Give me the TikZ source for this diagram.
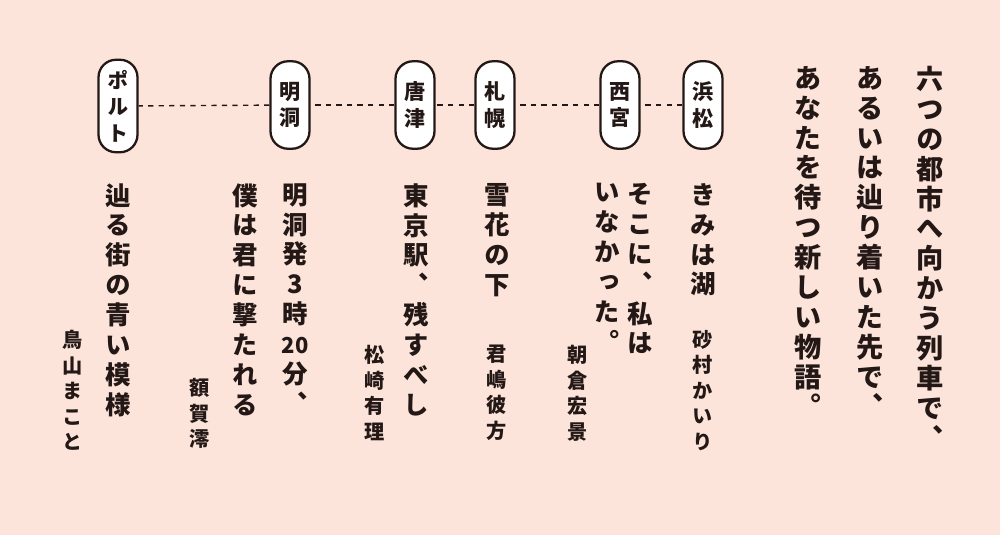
\documentclass[tikz,border=0pt]{standalone}
\usepackage{fontspec}
\newfontfamily\cjkv[RawFeature=+vert]{Noto Sans CJK JP}
\definecolor{bg}{HTML}{FCE4DB}
\definecolor{ink}{HTML}{231815}
\tikzset{
 pill/.style={draw=ink,line width=1.3pt,fill=white,rounded corners=10pt,minimum width=0.78cm,minimum height=1.75cm,inner sep=0pt,align=center,font=\cjkv\bfseries\fontsize{12pt}{15pt}\selectfont,text=ink},
 title/.style={anchor=north,inner sep=0pt,align=center,font=\cjkv\bfseries\fontsize{15.5pt}{17pt}\selectfont,text=ink},
 story/.style={anchor=north,inner sep=0pt,align=center,font=\cjkv\bfseries\fontsize{14.5pt}{17pt}\selectfont,text=ink},
 author/.style={anchor=north,inner sep=0pt,align=center,font=\cjkv\bfseries\fontsize{11.5pt}{14.5pt}\selectfont,text=ink},
 link/.style={draw=ink,dashed,line width=0.8pt}
}
\begin{document}
\begin{tikzpicture}[x=0.02cm,y=-0.02cm]
\fill[bg] (0,0) rectangle (1000,535);
\useasboundingbox (0,0) rectangle (1000,535);
% title
\node[title] (t1) at (930,66) {六\\つ\\の\\都\\市\\へ\\向\\か\\う\\列\\車\\で\\、};
\node[title] (t2) at (870,66) {あ\\る\\い\\は\\辿\\り\\着\\い\\た\\先\\で\\、};
\node[title] (t3) at (808,66) {あ\\な\\た\\を\\待\\つ\\新\\し\\い\\物\\語\\。};
% pills
\node[pill] (p1) at (703,105) {浜\\松};
\node[pill] (p2) at (620,105) {西\\宮};
\node[pill] (p3) at (495,105) {札\\幌};
\node[pill] (p4) at (415,105) {唐\\津};
\node[pill] (p5) at (290,105) {明\\洞};
\node[pill,minimum height=1.85cm] (p6) at (118,106) {ポ\\ル\\ト};
\draw[link] (p1) -- (p2);
\draw[link] (p2) -- (p3);
\draw[link] (p3) -- (p4);
\draw[link] (p4) -- (p5);
\draw[link] (p5) -- (p6);
% stories
\node[story] (s1) at (703,183) {き\\み\\は\\湖};
\node[author] (a1) at (703,330) {砂\\村\\か\\い\\り};
\node[story] (s2a) at (640,183) {そ\\こ\\に\\、\\私\\は};
\node[story] (s2b) at (607,183) {い\\な\\か\\っ\\た\\。};
\node[author] (a2) at (578,345) {朝\\倉\\宏\\景};
\node[story] (s3) at (497,183) {雪\\花\\の\\下};
\node[author] (a3) at (497,345) {君\\嶋\\彼\\方};
\node[story] (s4) at (416,183) {東\\京\\駅\\、\\残\\す\\べ\\し};
\node[author] (a4) at (375,345) {松\\崎\\有\\理};
\node[story] (s5a) at (295,183) {明\\洞\\発\\3\\時\\{\fontsize{12.5pt}{17pt}\selectfont 20}\\分\\、};
\node[story] (s5b) at (245,183) {僕\\は\\君\\に\\撃\\た\\れ\\る};
\node[author] (a5) at (200,378) {額\\賀\\澪};
\node[story] (s6) at (118,183) {辿\\る\\街\\の\\青\\い\\模\\様};
\node[author] (a6) at (73,330) {鳥\\山\\ま\\こ\\と};
\end{tikzpicture}
\end{document}
